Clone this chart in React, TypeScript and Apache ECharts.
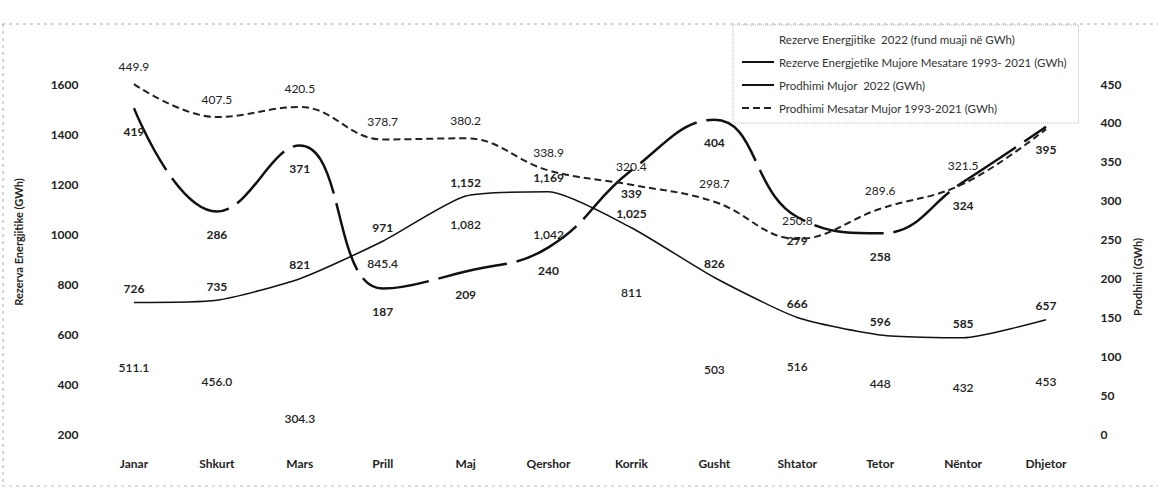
import React, { useEffect, useRef } from "react";
import * as echarts from "echarts";

const months = ["Janar", "Shkurt", "Mars", "Prill", "Maj", "Qershor", "Korrik", "Gusht", "Shtator", "Tetor", "Nëntor", "Dhjetor"];
const reserve2022 = [511.1, 456.0, 304.3, 845.4, 1082, 1042, 811, 503, 516, 448, 432, 453];
const reserve2022Labels = ["511.1", "456.0", "304.3", "845.4", "1,082", "1,042", "811", "503", "516", "448", "432", "453"];
const reserveAvg = [726, 735, 821, 971, 1152, 1169, 1025, 826, 666, 596, 585, 657];
const prod2022 = [419, 286, 371, 187, 209, 240, 339, 404, 279, 258, 324, 395];
const prodAvg = [449.9, 407.5, 420.5, 378.7, 380.2, 338.9, 320.4, 298.7, 250.8, 289.6, 321.5, 392];

const leftTicks = { min: 200, max: 1600, interval: 200 };
const rightTicks = { min: 0, max: 450, interval: 50 };

const names = {
  r22: "Rezerve Energjitike  2022 (fund muaji në GWh)",
  rAvg: "Rezerve Energjetike Mujore Mesatare 1993- 2021 (GWh)",
  p22: "Prodhimi Mujor  2022 (GWh)",
  pAvg: "Prodhimi Mesatar Mujor 1993-2021 (GWh)",
};

const FONT = "Lato, 'Liberation Sans', sans-serif";
const INK = "#222";
const CLEAR = "rgba(0,0,0,0)";

const hiddenSymbol = { symbol: "circle", symbolSize: 2, showSymbol: true, itemStyle: { color: CLEAR } };

export default function App() {
  const ref = useRef<HTMLDivElement>(null);
  useEffect(() => {
    if (!ref.current) return;
    const chart = echarts.init(ref.current, null, { renderer: "svg" });
    chart.setOption({
      animation: false,
      backgroundColor: "#fff",
      textStyle: { fontFamily: FONT },
      grid: { left: 92.5, right: 70.5, top: 84, bottom: 57, containLabel: false },
      legend: {
        orient: "vertical",
        left: 733,
        top: 25,
        width: 338,
        padding: [8, 12, 9, 8],
        itemGap: 11,
        itemWidth: 32,
        itemHeight: 14,
        borderColor: "#bbb",
        borderWidth: 1,
        borderType: "dotted",
        textStyle: { fontFamily: FONT, fontSize: 11.5, color: "#333" },
        data: [names.r22, names.rAvg, names.p22, names.pAvg],
      },
      xAxis: {
        type: "category",
        data: months,
        boundaryGap: true,
        axisLine: { show: false },
        axisTick: { show: false },
        axisLabel: { margin: 23, fontFamily: FONT, fontWeight: "bold", fontSize: 12, color: INK, interval: 0 },
      },
      yAxis: [
        {
          type: "value",
          position: "left",
          ...leftTicks,
          name: "Rezerva Energjitike (GWh)",
          nameLocation: "middle",
          nameGap: 69,
          nameRotate: 90,
          nameTextStyle: { fontFamily: FONT, fontWeight: "bold", fontSize: 11, color: INK, padding: [0, 0, 0, 34] },
          axisLine: { show: false },
          axisTick: { show: false },
          splitLine: { show: false },
          axisLabel: { margin: 14, fontFamily: FONT, fontWeight: "bold", fontSize: 12, color: INK, formatter: (v: number) => String(v) },
        },
        {
          type: "value",
          position: "right",
          ...rightTicks,
          name: "Prodhimi (GWh)",
          nameLocation: "middle",
          nameGap: 42,
          nameRotate: 90,
          nameTextStyle: { fontFamily: FONT, fontWeight: "bold", fontSize: 11, color: INK, padding: [0, 36, 0, 0] },
          axisLine: { show: false },
          axisTick: { show: false },
          splitLine: { show: false },
          axisLabel: { margin: 13, fontFamily: FONT, fontWeight: "bold", fontSize: 12, color: INK, formatter: (v: number) => String(v) },
        },
      ],
      series: [
        {
          name: names.r22,
          type: "line",
          yAxisIndex: 0,
          ...hiddenSymbol,
          lineStyle: { color: CLEAR, width: 0 },
          data: reserve2022.map((v, i) => ({
            value: v,
            label: i === 3 ? { position: "top", distance: 2 } : undefined,
          })),
          label: {
            show: true,
            position: "bottom",
            distance: 4,
            fontFamily: FONT,
            fontWeight: 600,
            fontSize: 12,
            color: INK,
            formatter: (p: any) => reserve2022Labels[p.dataIndex],
          },
          z: 1,
        },
        {
          name: names.rAvg,
          type: "line",
          yAxisIndex: 0,
          ...hiddenSymbol,
          smooth: 0.2,
          lineStyle: { color: "#111", width: 1.5, type: "solid" },
          data: reserveAvg,
          label: {
            show: true,
            position: "top",
            distance: 7,
            fontFamily: FONT,
            fontWeight: "bold",
            fontSize: 12,
            color: INK,
            formatter: (p: any) => Number(p.value).toLocaleString("en-US"),
          },
        },
        {
          name: names.p22,
          type: "line",
          yAxisIndex: 1,
          ...hiddenSymbol,
          smooth: 0.45,
          lineStyle: { color: "#111", width: 2.5, type: [70, 10] },
          data: prod2022,
          label: {
            show: true,
            position: "bottom",
            distance: 16,
            fontFamily: FONT,
            fontWeight: "bold",
            fontSize: 12,
            color: INK,
          },
        },
        {
          name: names.pAvg,
          type: "line",
          yAxisIndex: 1,
          ...hiddenSymbol,
          smooth: 0.4,
          lineStyle: { color: "#222", width: 2, type: [7, 4] },
          data: prodAvg.map((v, i) => ({
            value: v,
            label: i === prodAvg.length - 1 ? { show: false } : undefined,
          })),
          label: {
            show: true,
            position: "top",
            distance: 11,
            fontFamily: FONT,
            fontWeight: "normal",
            fontSize: 12,
            color: INK,
            formatter: (p: any) => Number(p.value).toFixed(1),
          },
        },
      ],
      graphic: [
        { type: "line", shape: { x1: 2, y1: 24, x2: 1158, y2: 24 }, style: { stroke: "#aaa", lineWidth: 1, lineDash: [3, 4] }, silent: true },
        { type: "line", shape: { x1: 3, y1: 24, x2: 3, y2: 486 }, style: { stroke: "#aaa", lineWidth: 1, lineDash: [3, 4] }, silent: true },
        { type: "line", shape: { x1: 2, y1: 486, x2: 1158, y2: 486 }, style: { stroke: "#bbb", lineWidth: 1, lineDash: [3, 4] }, silent: true },
      ],
    });
    return () => chart.dispose();
  }, []);
  return <div ref={ref} style={{ position: "fixed", left: 0, top: 0, width: 1158, height: 491 }} />;
}
